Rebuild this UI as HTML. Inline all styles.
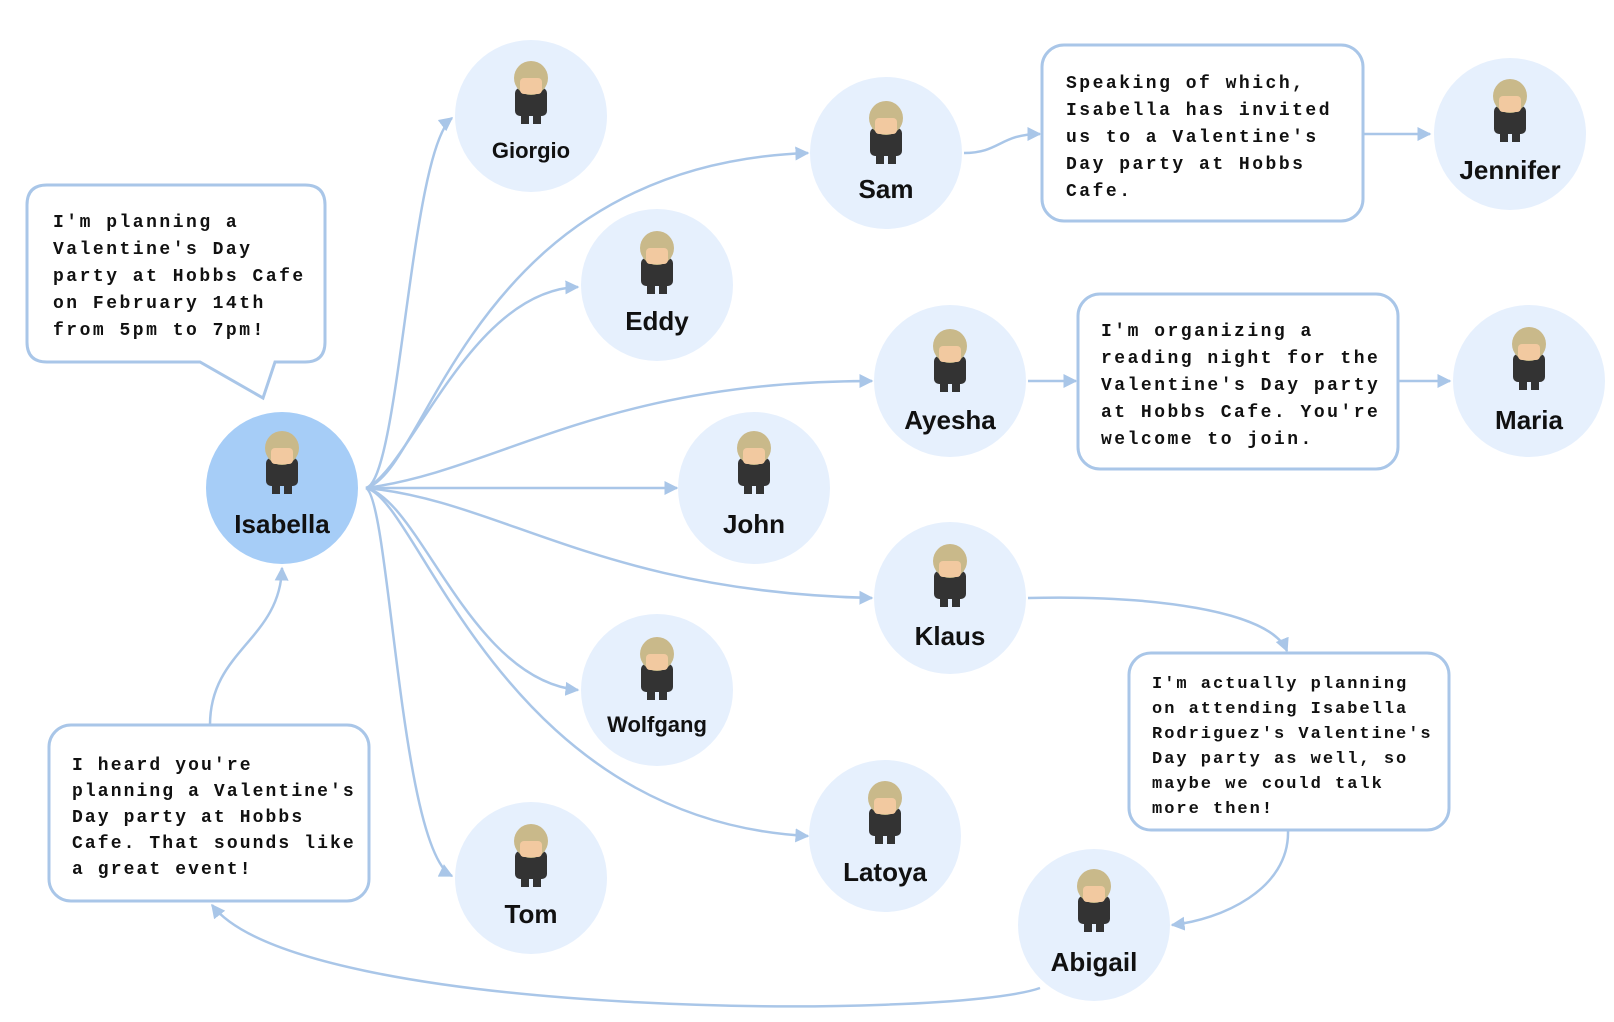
<!DOCTYPE html>
<html><head><meta charset="utf-8"><style>
body{margin:0;background:#fff;}
svg{display:block;}
.n{font-family:"Liberation Sans",sans-serif;font-weight:bold;font-size:26px;fill:#111;text-anchor:middle;}
.t{font-family:"Liberation Mono",monospace;font-weight:bold;font-size:18px;fill:#111;letter-spacing:2.5px;}
</style></head><body>
<svg width="1614" height="1022" viewBox="0 0 1614 1022" xmlns="http://www.w3.org/2000/svg">
<defs>
<marker id="a" viewBox="0 0 10 10" refX="9" refY="5" markerWidth="14" markerHeight="14" markerUnits="userSpaceOnUse" orient="auto"><path d="M0,0 L10,5 L0,10 z" fill="#a9c6e8"/></marker>
<g id="av"><rect x="-16" y="-4" width="32" height="28" rx="5" fill="#333"/><circle cx="0" cy="-14" r="17" fill="#c9b98a"/><rect x="-11" y="-14" width="22" height="16" rx="4" fill="#f2c9a0"/><rect x="-10" y="24" width="8" height="8" fill="#333"/><rect x="2" y="24" width="8" height="8" fill="#333"/></g>
</defs>
<g fill="none" stroke="#a9c6e8" stroke-width="2.5" marker-end="url(#a)">
<path d="M366,488 C400,480 410,150 452,118"/>
<path d="M366,488 C430,470 470,165 808,153"/>
<path d="M366,488 C410,470 470,290 578,287"/>
<path d="M366,488 C500,470 600,381 872,381"/>
<path d="M366,488 L677,488"/>
<path d="M366,488 C500,500 600,592 872,598"/>
<path d="M366,488 C420,500 470,680 578,690"/>
<path d="M366,488 C420,500 500,820 808,836"/>
<path d="M366,488 C390,500 400,850 452,876"/>
<path d="M964,153 C1000,153 1000,134 1040,134"/>
<path d="M1363,134 L1430,134"/>
<path d="M1028,381 L1076,381"/>
<path d="M1398,381 L1450,381"/>
<path d="M1028,598 C1150,595 1270,610 1287,651"/>
<path d="M1288,830 C1290,890 1220,920 1172,925"/>
<path d="M1040,988 C950,1020 300,1020 212,905"/>
<path d="M210,725 C210,650 280,640 282,568"/>
</g>
<g fill="#e6f0fd">
<circle cx="531" cy="116" r="76"/><circle cx="886" cy="153" r="76"/><circle cx="657" cy="285" r="76"/>
<circle cx="950" cy="381" r="76"/><circle cx="754" cy="488" r="76"/><circle cx="950" cy="598" r="76"/>
<circle cx="657" cy="690" r="76"/><circle cx="885" cy="836" r="76"/><circle cx="531" cy="878" r="76"/>
<circle cx="1094" cy="925" r="76"/><circle cx="1510" cy="134" r="76"/><circle cx="1529" cy="381" r="76"/>
</g>
<circle cx="282" cy="488" r="76" fill="#a6cdf7"/>
<use href="#av" x="282" y="462"/><use href="#av" x="531" y="92"/><use href="#av" x="886" y="132"/>
<use href="#av" x="657" y="262"/><use href="#av" x="950" y="360"/><use href="#av" x="754" y="462"/>
<use href="#av" x="950" y="575"/><use href="#av" x="657" y="668"/><use href="#av" x="885" y="812"/>
<use href="#av" x="531" y="855"/><use href="#av" x="1094" y="900"/><use href="#av" x="1510" y="110"/><use href="#av" x="1529" y="358"/>
<text class="n" x="282" y="533">Isabella</text>
<text class="n" x="531" y="158" style="font-size:22px">Giorgio</text>
<text class="n" x="886" y="198">Sam</text>
<text class="n" x="657" y="330">Eddy</text>
<text class="n" x="950" y="429">Ayesha</text>
<text class="n" x="754" y="533">John</text>
<text class="n" x="950" y="645">Klaus</text>
<text class="n" x="657" y="732" style="font-size:22px">Wolfgang</text>
<text class="n" x="885" y="881">Latoya</text>
<text class="n" x="531" y="923">Tom</text>
<text class="n" x="1094" y="971">Abigail</text>
<text class="n" x="1510" y="179">Jennifer</text>
<text class="n" x="1529" y="429">Maria</text>
<g fill="#fff" stroke="#a9c6e8" stroke-width="3">
<path d="M47,185 H305 Q325,185 325,205 V342 Q325,362 305,362 H275 L263,398 L200,362 H47 Q27,362 27,342 V205 Q27,185 47,185 Z"/>
<rect x="1042" y="45" width="321" height="176" rx="22"/>
<rect x="1078" y="294" width="320" height="175" rx="22"/>
<rect x="1129" y="653" width="320" height="177" rx="22"/>
<rect x="49" y="725" width="320" height="176" rx="22"/>
</g>
<text class="t"><tspan x="53" y="227">I'm planning a</tspan><tspan x="53" y="254">Valentine's Day</tspan><tspan x="53" y="281">party at Hobbs Cafe</tspan><tspan x="53" y="308">on February 14th</tspan><tspan x="53" y="335">from 5pm to 7pm!</tspan></text>
<text class="t"><tspan x="1066" y="88">Speaking of which,</tspan><tspan x="1066" y="115">Isabella has invited</tspan><tspan x="1066" y="142">us to a Valentine's</tspan><tspan x="1066" y="169">Day party at Hobbs</tspan><tspan x="1066" y="196">Cafe.</tspan></text>
<text class="t"><tspan x="1101" y="336">I'm organizing a</tspan><tspan x="1101" y="363">reading night for the</tspan><tspan x="1101" y="390">Valentine's Day party</tspan><tspan x="1101" y="417">at Hobbs Cafe. You're</tspan><tspan x="1101" y="444">welcome to join.</tspan></text>
<text class="t" style="font-size:17px;letter-spacing:2px"><tspan x="1152" y="688">I'm actually planning</tspan><tspan x="1152" y="713">on attending Isabella</tspan><tspan x="1152" y="738">Rodriguez's Valentine's</tspan><tspan x="1152" y="763">Day party as well, so</tspan><tspan x="1152" y="788">maybe we could talk</tspan><tspan x="1152" y="813">more then!</tspan></text>
<text class="t" style="letter-spacing:2.1px"><tspan x="72" y="770">I heard you're</tspan><tspan x="72" y="796">planning a Valentine's</tspan><tspan x="72" y="822">Day party at Hobbs</tspan><tspan x="72" y="848">Cafe. That sounds like</tspan><tspan x="72" y="874">a great event!</tspan></text>
</svg>
</body></html>
